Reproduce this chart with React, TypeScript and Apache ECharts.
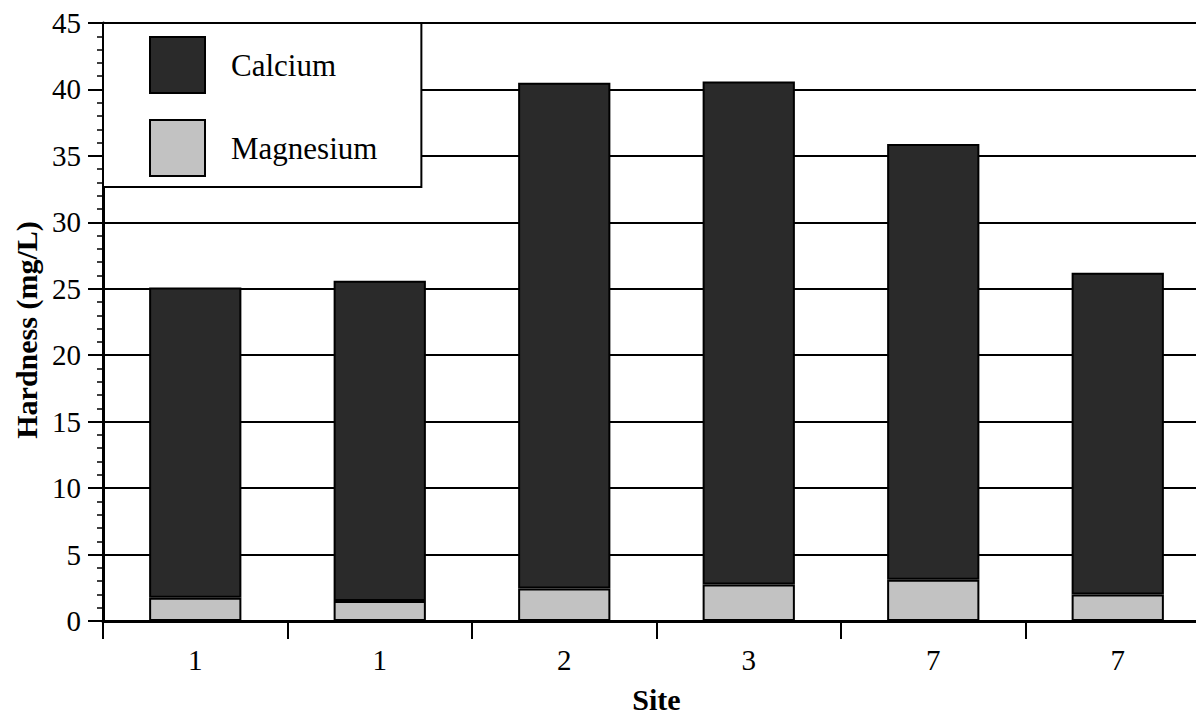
import React, { useEffect, useRef } from "react";
import * as echarts from "echarts";

// Sampling sites along the x axis (two samples at sites 1 and 7)
const sites = ["1", "1", "2", "3", "7", "7"];
// Hardness components, mg/L
const magnesium = [1.75, 1.5, 2.45, 2.75, 3.1, 2.0];
const calcium = [23.35, 24.1, 38.05, 37.85, 32.8, 24.2];
const seriesNames = ["Calcium", "Magnesium"];

const FONT = "Times New Roman, Liberation Serif, DejaVu Serif, serif";

export default function App() {
  const ref = useRef<HTMLDivElement>(null);

  useEffect(() => {
    if (!ref.current) return;
    const chart = echarts.init(ref.current, undefined, { renderer: "svg" });
    chart.setOption({
      animation: false,
      backgroundColor: "#ffffff",
      textStyle: { fontFamily: FONT, color: "#000" },
      grid: { left: 103, top: 23, width: 1107, height: 601, containLabel: false },
      legend: {
        data: seriesNames,
        orient: "vertical",
        left: 103,
        top: 23,
        itemWidth: 55,
        itemHeight: 56,
        itemGap: 25,
        padding: [13, 44, 10, 46],
        borderColor: "#000",
        borderWidth: 2,
        backgroundColor: "#fff",
        icon: "rect",
        textStyle: { fontFamily: FONT, fontSize: 31, color: "#000", padding: [0, 0, 0, 21] },
        selectedMode: false,
      },
      xAxis: {
        type: "category",
        data: sites,
        boundaryGap: true,
        name: "Site",
        nameLocation: "middle",
        nameGap: 63,
        nameTextStyle: { fontFamily: FONT, fontSize: 30, fontWeight: "bold", color: "#000" },
        axisLine: { show: true, lineStyle: { color: "#000", width: 3 } },
        axisTick: { show: true, interval: 0, length: 18, lineStyle: { color: "#000", width: 2 } },
        axisLabel: { fontFamily: FONT, fontSize: 29, color: "#000", margin: 24, interval: 0 },
        splitLine: { show: false },
      },
      yAxis: {
        type: "value",
        min: 0,
        max: 45,
        interval: 5,
        name: "Hardness (mg/L)",
        nameLocation: "middle",
        nameGap: 60,
        nameTextStyle: {
          fontFamily: FONT,
          fontSize: 30,
          fontWeight: "bold",
          color: "#000",
          padding: [0, 16, 0, 0],
        },
        axisLine: { show: true, lineStyle: { color: "#000", width: 3 } },
        axisTick: { show: true, length: 15, lineStyle: { color: "#000", width: 2 } },
        minorTick: { show: true, splitNumber: 5, length: 6, lineStyle: { color: "#000", width: 1.5 } },
        axisLabel: { fontFamily: FONT, fontSize: 29, color: "#000", margin: 22 },
        splitLine: { show: true, lineStyle: { color: "#000", width: 2 } },
      },
      series: [
        {
          name: "Magnesium",
          type: "bar",
          stack: "hardness",
          data: magnesium,
          barWidth: "50%",
          itemStyle: { color: "#c2c2c2", borderColor: "#000", borderWidth: 2 },
        },
        {
          name: "Calcium",
          type: "bar",
          stack: "hardness",
          data: calcium,
          barWidth: "50%",
          itemStyle: { color: "#2a2a2a", borderColor: "#000", borderWidth: 2 },
        },
      ],
    });
    return () => chart.dispose();
  }, []);

  // The plot runs past the right edge of the frame, so the chart canvas is wider
  // than the visible area and clipped by the wrapper.
  return (
    <div
      style={{
        position: "fixed",
        left: 0,
        top: 0,
        width: 1196,
        height: 719,
        overflow: "hidden",
        background: "#fff",
      }}
    >
      <div ref={ref} style={{ width: 1230, height: 719 }} />
    </div>
  );
}
